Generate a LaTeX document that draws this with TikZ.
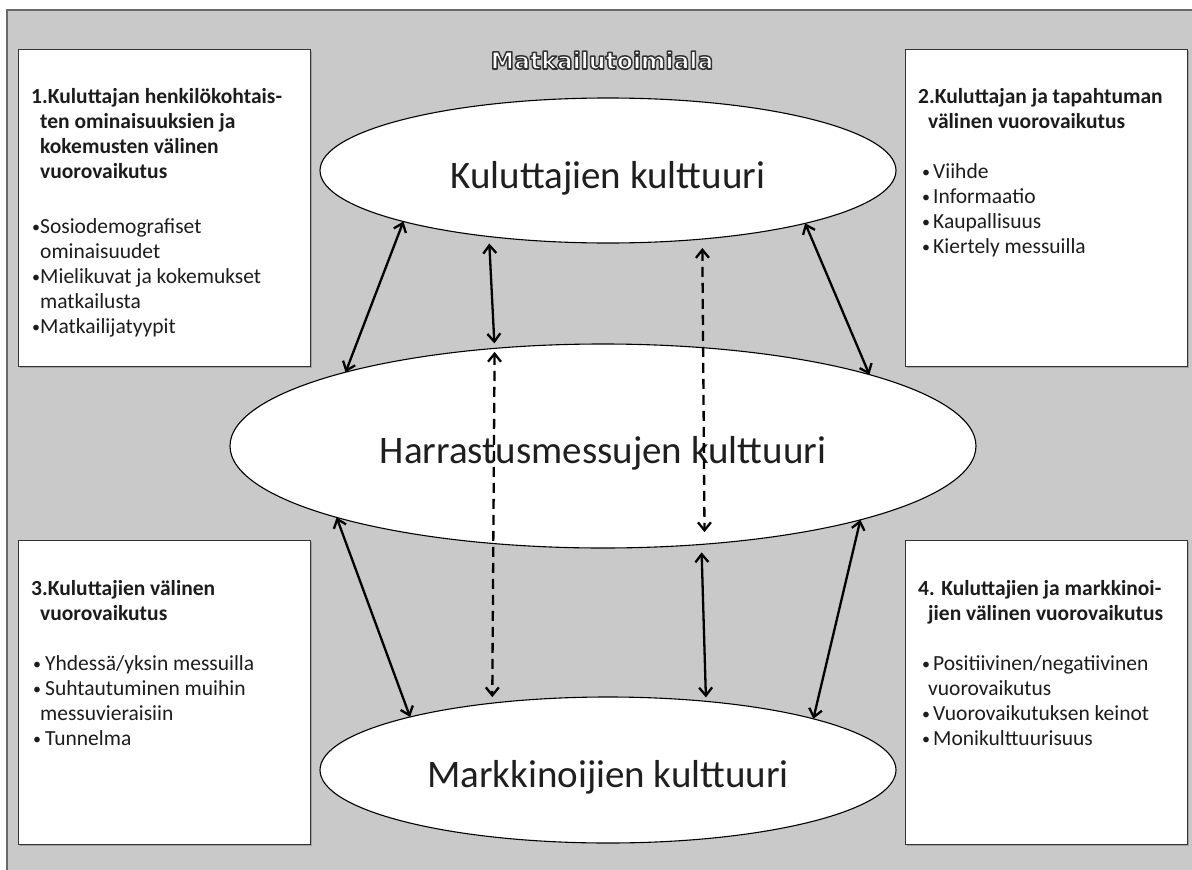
\documentclass[tikz,border=0pt]{standalone}
\usepackage{fontspec}
\setmainfont{Carlito}
\newfontfamily\titlefont{DejaVu Sans}
\usetikzlibrary{arrows.meta,shadows,shapes.geometric}
\definecolor{bggray}{RGB}{201,201,201}
\definecolor{framegray}{RGB}{105,105,105}
\definecolor{txt}{RGB}{28,28,28}
\newcommand\smallbul{\raisebox{0.5pt}{\fontsize{16}{16}\selectfont•}}
\begin{document}
\begin{tikzpicture}[x=1pt,y=-1pt,
  infobox/.style={draw=black!80, line width=0.9pt, fill=white, inner sep=0pt, anchor=north west,
    drop shadow={shadow xshift=1.6pt,shadow yshift=-1.6pt,opacity=0.55}},
  boxtext/.style={anchor=north west, inner sep=0pt, align=left, text=txt, font=\fontsize{21.5}{25}\selectfont},
  culture/.style={ellipse, draw=black, line width=1.1pt, fill=white, inner sep=0pt, outer sep=0pt,
    text height=40pt, text depth=5pt, font=\fontsize{39}{45}\selectfont, text=black!88},
  link/.style={line width=2.3pt, {Straight Barb[length=8pt,width=13pt]}-{Straight Barb[length=8pt,width=13pt]}},
  dlink/.style={link, dash pattern=on 10pt off 6pt}
]
\useasboundingbox (0,0) rectangle (1192,870);
\fill[white] (0,0) rectangle (1192,870);
\draw[fill=bggray, draw=framegray, line width=1.5pt] (7,10) rectangle (1210,890);

% boxes
\node[infobox, minimum width=292pt, minimum height=317pt] (box1) at (18,49) {};
\node[infobox, minimum width=282pt, minimum height=317pt] (box2) at (905,49) {};
\node[infobox, minimum width=292pt, minimum height=304pt] (box3) at (18,540) {};
\node[infobox, minimum width=282pt, minimum height=304pt] (box4) at (905,540) {};

\node[boxtext] (t1) at (31,85.5) {\strut\textbf{1.Kuluttajan henkilökohtais-}\\
\hspace*{9pt}\textbf{ten ominaisuuksien ja}\\
\hspace*{9pt}\textbf{kokemusten välinen}\\
\hspace*{9pt}\textbf{vuorovaikutus}\\[30pt]
\hspace*{1pt}\makebox[8pt][l]{\smallbul}Sosiodemografiset\\
\hspace*{9pt}ominaisuudet\\
\hspace*{1pt}\makebox[8pt][l]{\smallbul}Mielikuvat ja kokemukset\\
\hspace*{9pt}matkailusta\\
\hspace*{1pt}\makebox[8pt][l]{\smallbul}Matkailijatyypit};

\node[boxtext] (t2) at (918,85.5) {\strut\textbf{2.Kuluttajan ja tapahtuman}\\
\hspace*{10pt}\textbf{välinen vuorovaikutus}\\[25pt]
\hspace*{4pt}\makebox[11pt][l]{\smallbul}Viihde\\
\hspace*{4pt}\makebox[11pt][l]{\smallbul}Informaatio\\
\hspace*{4pt}\makebox[11pt][l]{\smallbul}Kaupallisuus\\
\hspace*{4pt}\makebox[11pt][l]{\smallbul}Kiertely messuilla};

\node[boxtext] (t3) at (31,577.5) {\strut\textbf{3.Kuluttajien välinen}\\
\hspace*{9pt}\textbf{vuorovaikutus}\\[25pt]
\hspace*{2pt}\makebox[12pt][l]{\smallbul}Yhdessä/yksin messuilla\\
\hspace*{2pt}\makebox[12pt][l]{\smallbul}Suhtautuminen muihin\\
\hspace*{9pt}messuvieraisiin\\
\hspace*{2pt}\makebox[12pt][l]{\smallbul}Tunnelma};

\node[boxtext] (t4) at (918,577.5) {\strut\textbf{4. Kuluttajien ja markkinoi-}\\
\hspace*{10pt}\textbf{jien välinen vuorovaikutus}\\[25pt]
\hspace*{4pt}\makebox[11pt][l]{\smallbul}Positiivinen/negatiivinen\\
\hspace*{10pt}vuorovaikutus\\
\hspace*{4pt}\makebox[11pt][l]{\smallbul}Vuorovaikutuksen keinot\\
\hspace*{4pt}\makebox[11pt][l]{\smallbul}Monikulttuurisuus};

% ellipses
\node[culture, minimum width=576pt, minimum height=145pt] (e1) at (608,170.5) {Kuluttajien kulttuuri};
\node[culture, minimum width=746pt, minimum height=204pt] (e2) at (603,446) {Harrastusmessujen kulttuuri};
\node[culture, minimum width=576pt, minimum height=146pt] (e3) at (608,770) {Markkinoijien kulttuuri};

% connectors
\draw[link] (e1.194) -- (e2.164.6);
\draw[link, shorten <=7pt, shorten >=5pt] (e1.209.8) -- (e2.138.7);
\draw[dlink, shorten <=9pt, shorten >=12pt] (e1.324.85) -- (e2.316.1);
\draw[link] (e1.345.9) -- (e2.15.5);
\draw[link] (e2.195.2) -- (e3.165.95);
\draw[dlink, shorten <=3.5pt, shorten >=6pt] (e2.138.7) -- (e3.150.06);
\draw[link, shorten <=8pt, shorten >=4pt] (e2.315.8) -- (e3.35.63);
\draw[link] (e2.344.7) -- (e3.14.17);

% title
\node[inner sep=0pt, anchor=base] (title) at (602,69) {\titlefont\bfseries\fontsize{23.5}{27}\selectfont\textcolor{white}{\special{pdf:literal direct 0.2 0.2 0.2 RG 2 Tr 1.5 w 1 j}Matkailutoimiala\special{pdf:literal direct 0 Tr}}};
\end{tikzpicture}
\end{document}
